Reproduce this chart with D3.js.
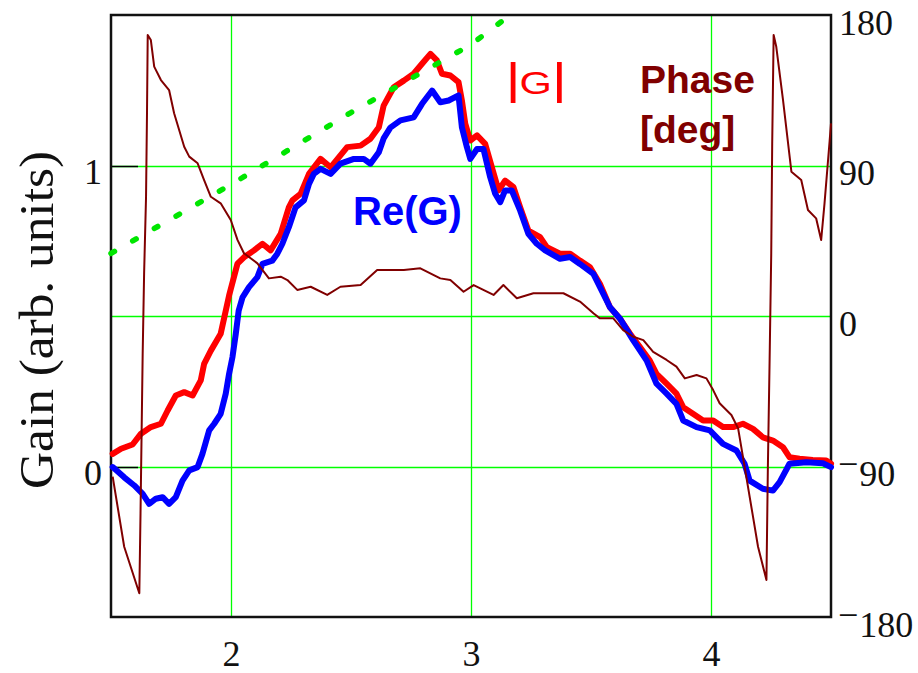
<!DOCTYPE html>
<html lang="en">
<head>
  <title>Gain and phase</title>
  <meta http-equiv="content-type" content="text/html; charset=utf-8" />
<style>

body {
	margin:0px;
	background:#fff;
}

.domain {
	display:none;
}

.grid line {
	stroke:#00ff00;
	stroke-width:1.3px;
}

.label {
	font-family: 'Liberation Sans', Arial, sans-serif;
}

</style>
</head>

<body>
    <div>
    	<svg></svg>
    </div>

    <script src="https://cdn.jsdelivr.net/npm/d3@7"></script>

    <script>

    // tick values
    var xTicks = [2, 3, 4];
    var gainTicks = [0, 1];
    var phaseTicks = [180, 90, 0, -90, -180];
    var phaseGrid = [90, 0, -90];

    // |G|  [x, gain]
    var absG = [
      [1.507,0.042],[1.542,0.059],[1.590,0.073],[1.625,0.109],[1.666,0.131],[1.708,0.142],
      [1.736,0.186],[1.770,0.236],[1.805,0.247],[1.840,0.236],[1.874,0.286],[1.888,0.341],
      [1.916,0.385],[1.957,0.441],[1.992,0.568],[2.027,0.674],[2.054,0.695],[2.096,0.718],
      [2.131,0.740],[2.165,0.718],[2.207,0.773],[2.241,0.861],[2.256,0.884],[2.290,0.906],
      [2.325,0.972],[2.373,1.022],[2.415,0.994],[2.484,1.061],[2.540,1.066],[2.581,1.089],
      [2.616,1.127],[2.636,1.199],[2.678,1.260],[2.720,1.282],[2.761,1.305],[2.796,1.338],
      [2.831,1.371],[2.858,1.349],[2.879,1.305],[2.914,1.299],[2.948,1.277],[2.962,1.216],
      [2.976,1.139],[2.997,1.083],[3.025,1.100],[3.059,1.072],[3.087,0.994],[3.115,0.917],
      [3.142,0.950],[3.177,0.928],[3.205,0.861],[3.239,0.784],[3.288,0.762],[3.316,0.729],
      [3.371,0.707],[3.413,0.707],[3.454,0.684],[3.496,0.662],[3.537,0.607],[3.579,0.529],
      [3.620,0.492],[3.662,0.442],[3.704,0.397],[3.745,0.352],[3.773,0.308],[3.815,0.275],
      [3.856,0.242],[3.884,0.197],[3.925,0.175],[3.967,0.153],[4.009,0.153],[4.050,0.131],
      [4.092,0.131],[4.133,0.142],[4.175,0.125],[4.216,0.097],[4.258,0.086],[4.300,0.064],
      [4.327,0.031],[4.369,0.026],[4.424,0.022],[4.480,0.020],[4.500,0.009]
    ];

    // Re(G)  [x, gain]
    var reG = [
      [1.507,-0.002],[1.555,-0.036],[1.597,-0.063],[1.632,-0.091],[1.659,-0.124],[1.687,-0.107],
      [1.715,-0.102],[1.742,-0.124],[1.770,-0.102],[1.798,-0.047],[1.826,-0.013],[1.861,-0.002],
      [1.881,0.042],[1.909,0.120],[1.930,0.142],[1.957,0.175],[1.978,0.242],[1.992,0.308],
      [2.006,0.363],[2.020,0.441],[2.032,0.518],[2.048,0.562],[2.075,0.596],[2.110,0.629],
      [2.131,0.673],[2.172,0.684],[2.193,0.707],[2.214,0.740],[2.241,0.795],[2.269,0.861],
      [2.304,0.884],[2.325,0.939],[2.345,0.972],[2.373,0.989],[2.415,0.972],[2.456,1.006],
      [2.512,1.022],[2.553,1.022],[2.581,1.006],[2.616,1.044],[2.636,1.090],[2.664,1.126],
      [2.706,1.150],[2.761,1.160],[2.796,1.205],[2.838,1.249],[2.872,1.210],[2.907,1.216],
      [2.948,1.233],[2.962,1.127],[2.983,1.061],[2.997,1.022],[3.025,1.055],[3.052,1.055],
      [3.080,0.961],[3.101,0.906],[3.122,0.878],[3.142,0.917],[3.170,0.917],[3.205,0.850],
      [3.239,0.773],[3.274,0.740],[3.309,0.718],[3.371,0.690],[3.413,0.696],[3.454,0.673],
      [3.510,0.640],[3.551,0.574],[3.579,0.529],[3.620,0.492],[3.676,0.419],[3.732,0.352],
      [3.773,0.275],[3.815,0.242],[3.856,0.208],[3.884,0.153],[3.940,0.131],[3.995,0.120],
      [4.050,0.075],[4.106,0.053],[4.140,0.009],[4.161,-0.047],[4.216,-0.074],[4.258,-0.080],
      [4.286,-0.052],[4.327,0.009],[4.397,0.014],[4.466,0.011],[4.500,-0.002]
    ];

    // phase [x, deg]
    var phase = [
      [1.507,-96.1],[1.555,-138.0],[1.618,-165.8],[1.623,-118.0],[1.632,-22.3],[1.638,25.7],
      [1.646,71.3],[1.650,121.4],[1.653,168.0],[1.666,165.0],[1.680,149.1],[1.708,141.1],
      [1.742,135.1],[1.763,121.2],[1.805,101.2],[1.826,95.3],[1.861,91.3],[1.888,81.3],
      [1.916,71.3],[1.957,67.4],[1.999,57.4],[2.027,45.5],[2.054,37.5],[2.110,31.5],
      [2.158,22.5],[2.207,23.5],[2.235,21.5],[2.276,15.6],[2.332,17.5],[2.401,12.6],
      [2.456,17.5],[2.540,18.5],[2.609,27.5],[2.664,27.5],[2.720,27.5],[2.789,28.5],
      [2.872,22.5],[2.914,21.5],[2.969,14.5],[3.011,18.5],[3.094,12.6],[3.135,18.5],
      [3.191,10.6],[3.260,13.6],[3.385,13.6],[3.454,8.6],[3.510,1.6],[3.537,-1.4],
      [3.593,-1.4],[3.634,-8.4],[3.676,-12.4],[3.718,-14.4],[3.759,-21.5],[3.815,-26.3],
      [3.856,-30.3],[3.891,-37.3],[3.940,-35.3],[3.981,-37.3],[4.009,-44.3],[4.036,-52.2],
      [4.085,-59.2],[4.113,-67.2],[4.147,-96.1],[4.175,-120.0],[4.196,-138.0],[4.231,-157.9],
      [4.237,-90.1],[4.244,-28.3],[4.251,37.5],[4.255,103.3],[4.261,168.0],[4.272,161.0],
      [4.300,129.2],[4.335,86.3],[4.376,81.3],[4.404,63.4],[4.438,58.4],[4.459,45.4],
      [4.473,67.4],[4.494,104.2],[4.500,115.2]
    ];

    // green dotted trend [x, gain]
    var trend = [[1.5,0.708],[2.0,0.937],[2.5,1.176],[3.0,1.402],[3.16,1.498]];

    var serif = "'Liberation Serif', 'Times New Roman', serif";

    function styleTicks(sel) {
    	sel.selectAll("text")
    		.attr("font-family", serif)
    		.attr("font-size", 36)
    		.attr("fill", "#111");
    }

    function drawGraphic() {

    	var svg = d3.select("svg")
    		.attr("width", 918)
    		.attr("height", 673);

    	var plot = {left: 111, right: 831, top: 15, bottom: 617};

    	var x = d3.scaleLinear().domain([1.5, 4.5]).range([plot.left, plot.right]);
    	var yG = d3.scaleLinear().domain([-0.5, 1.5]).range([plot.bottom, plot.top]);
    	var yP = d3.scaleLinear().domain([-180, 180]).range([plot.bottom, plot.top]);

    	svg.append("rect")
    		.attr("width", 918).attr("height", 673).attr("fill", "#fff");

    	// grid
    	var grid = svg.append("g").attr("class", "grid");
    	grid.selectAll(".vg").data(xTicks).enter().append("line")
    		.attr("x1", function(d) { return Math.round(x(d)) + 0.5; })
    		.attr("x2", function(d) { return Math.round(x(d)) + 0.5; })
    		.attr("y1", plot.top).attr("y2", plot.bottom);
    	grid.selectAll(".hg").data(phaseGrid).enter().append("line")
    		.attr("y1", function(d) { return Math.round(yP(d)) + 0.5; })
    		.attr("y2", function(d) { return Math.round(yP(d)) + 0.5; })
    		.attr("x1", plot.left).attr("x2", plot.right);

    	// short inner ticks on the gain axis
    	svg.append("g").selectAll("line").data(gainTicks).enter().append("line")
    		.attr("x1", plot.left).attr("x2", plot.left + 27)
    		.attr("y1", function(d) { return Math.round(yG(d)) + 0.5; })
    		.attr("y2", function(d) { return Math.round(yG(d)) + 0.5; })
    		.attr("stroke", "#000").attr("stroke-width", 1.5);

    	// frame
    	svg.append("rect")
    		.attr("x", plot.left).attr("y", plot.top)
    		.attr("width", plot.right - plot.left).attr("height", plot.bottom - plot.top)
    		.attr("fill", "none").attr("stroke", "#111").attr("stroke-width", 2.5);

    	// axes
    	var fmt = d3.format("d");

    	svg.append("g")
    		.attr("transform", "translate(0," + plot.bottom + ")")
    		.call(d3.axisBottom(x).tickValues(xTicks).tickFormat(fmt).tickSize(0).tickPadding(23))
    		.call(styleTicks);

    	svg.append("g")
    		.attr("transform", "translate(" + plot.left + ",0)")
    		.call(d3.axisLeft(yG).tickValues(gainTicks).tickFormat(fmt).tickSize(0).tickPadding(9))
    		.call(styleTicks)
    		.selectAll("text").attr("dy", "0.5em");

    	var right = svg.append("g")
    		.attr("transform", "translate(" + plot.right + ",0)")
    		.call(d3.axisRight(yP).tickValues(phaseTicks).tickFormat(fmt).tickSize(0).tickPadding(8))
    		.call(styleTicks);
    	right.selectAll("text").attr("dy", "0.53em")
    		.each(function(d) {
    			if (d < 0) {
    				var t = d3.select(this).text("").attr("dy", null).attr("x", 7);
    				t.append("tspan").attr("dy", "0.25em").text("\u2212");
    				t.append("tspan").attr("dy", "0.28em").attr("dx", 1).text(Math.abs(d));
    			}
    		});

    	// y axis title
    	svg.append("text")
    		.attr("transform", "translate(53,320) rotate(-90)")
    		.attr("text-anchor", "middle")
    		.attr("font-family", serif)
    		.attr("font-size", 48)
    		.attr("textLength", 338)
    		.attr("lengthAdjust", "spacingAndGlyphs")
    		.attr("fill", "#111")
    		.text("Gain (arb. units)");

    	// curves
    	var lineG = d3.line()
    		.x(function(d) { return x(d[0]); })
    		.y(function(d) { return yG(d[1]); });
    	var lineP = d3.line()
    		.x(function(d) { return x(d[0]); })
    		.y(function(d) { return yP(d[1]); });

    	svg.append("path")
    		.attr("d", lineG(absG))
    		.attr("fill", "none").attr("stroke", "#ff0000")
    		.attr("stroke-width", 6).attr("stroke-linejoin", "round").attr("stroke-linecap", "round");

    	svg.append("path")
    		.attr("d", lineG(reG))
    		.attr("fill", "none").attr("stroke", "#0000ff")
    		.attr("stroke-width", 6).attr("stroke-linejoin", "round").attr("stroke-linecap", "round");

    	svg.append("path")
    		.attr("d", lineP(phase))
    		.attr("fill", "none").attr("stroke", "#800000")
    		.attr("stroke-width", 2).attr("stroke-linejoin", "round");

    	svg.append("path")
    		.attr("d", lineG(trend))
    		.attr("fill", "none").attr("stroke", "#00e600")
    		.attr("stroke-width", 5.5).attr("stroke-linecap", "round")
    		.attr("stroke-dasharray", "4,21");

    	// in-plot labels
    	svg.append("text").attr("class", "label")
    		.attr("x", 353).attr("y", 225)
    		.attr("font-size", 40).attr("font-weight", "bold")
    		.attr("fill", "#0000ff")
    		.text("Re(G)");

    	var g = svg.append("text").attr("class", "label")
    		.attr("transform", "translate(505.5,94) scale(1.3,1)")
    		.attr("fill", "#ff0000");
    	g.append("tspan").attr("font-size", 45).text("|");
    	g.append("tspan").attr("font-size", 32).attr("dx", -1).text("G");
    	g.append("tspan").attr("font-size", 45).text("|");

    	svg.append("text").attr("class", "label")
    		.attr("x", 640).attr("y", 93)
    		.attr("font-size", 39).attr("font-weight", "bold")
    		.attr("fill", "#800000")
    		.text("Phase");
    	svg.append("text").attr("class", "label")
    		.attr("x", 640).attr("y", 143)
    		.attr("font-size", 39).attr("font-weight", "bold")
    		.attr("fill", "#800000")
    		.text("[deg]");
    }

    drawGraphic();

    </script>
</body>
</html>
